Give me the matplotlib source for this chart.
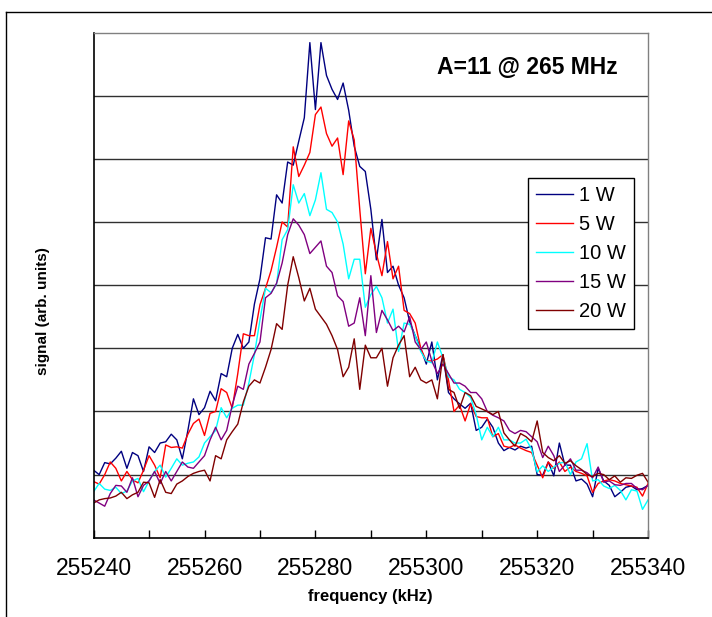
import matplotlib
matplotlib.use("Agg")
import matplotlib.pyplot as plt
from matplotlib.lines import Line2D
from matplotlib.ticker import MultipleLocator

plt.rcParams['font.family'] = ['Liberation Sans', 'DejaVu Sans']

# frequency axis, 1 kHz steps
freq = list(range(255240, 255341))

# signal (arb. units), one value per kHz
sig_1w = [1.07, 1.0, 1.19, 1.17, 1.26, 1.37, 1.1, 1.35, 1.3, 1.05,
          1.44, 1.35, 1.5, 1.52, 1.64, 1.55, 1.25, 1.7, 2.2, 1.95,
          2.06, 2.32, 2.17, 2.6, 2.55, 3.0, 3.22, 3.0, 3.1, 3.7,
          4.1, 4.75, 4.73, 5.43, 5.3, 5.95, 5.9, 6.28, 6.65, 7.84,
          6.78, 7.84, 7.32, 7.1, 6.94, 7.2, 6.77, 6.2, 5.88, 5.8,
          5.2, 4.4, 5.04, 4.2, 4.3, 4.0, 3.8, 3.42, 3.2, 3.0,
          2.75, 3.1, 2.5, 2.9, 2.3, 2.2, 2.12, 2.05, 2.13, 1.7,
          1.75, 1.88, 1.75, 1.5, 1.38, 1.43, 1.39, 1.45, 1.42, 1.45,
          1.0, 0.99, 1.2, 0.98, 1.5, 1.15, 1.15, 0.9, 0.93, 0.85,
          0.65, 1.1, 0.9, 0.83, 0.65, 0.72, 0.8, 0.82, 0.76, 0.78,
          0.83]
sig_5w = [0.89, 0.85, 1.0, 1.2, 1.1, 0.9, 1.05, 0.92, 0.87, 1.07,
          1.3, 1.15, 0.95, 1.47, 1.43, 1.44, 1.42, 1.64, 1.81, 1.88,
          1.62, 1.97, 2.0, 2.36, 2.3, 2.05, 2.6, 3.23, 3.2, 3.2,
          3.69, 3.95, 4.23, 4.6, 5.0, 4.92, 6.19, 5.72, 5.9, 6.1,
          6.7, 6.82, 6.4, 6.2, 6.33, 5.75, 6.6, 6.3, 5.2, 4.18,
          4.9, 4.5, 4.15, 4.69, 4.1, 4.3, 3.6, 3.55, 3.4, 3.0,
          2.8, 2.8, 2.83, 2.9, 2.5, 2.0, 2.1, 1.85, 2.12, 1.92,
          1.9, 1.9, 1.6, 1.65, 1.45, 1.43, 1.47, 1.42, 1.38, 1.35,
          1.15, 0.95, 1.2, 1.1, 1.2, 1.05, 1.12, 1.05, 1.02, 0.98,
          0.72, 0.86, 0.9, 0.92, 0.9, 0.86, 0.84, 0.82, 0.8, 0.66,
          0.86]
sig_10w = [0.73, 0.86, 0.77, 0.75, 0.8, 0.7, 0.74, 0.9, 0.94, 0.73,
           0.9, 1.05, 1.15, 0.96, 1.1, 1.25, 1.15, 1.18, 1.2, 1.28,
           1.5, 1.6, 1.7, 2.06, 1.9, 2.05, 2.1, 2.1, 2.45, 2.9,
           3.45, 3.95, 3.88, 4.02, 4.72, 4.88, 5.59, 5.3, 5.45, 5.1,
           5.35, 5.78, 5.2, 5.15, 5.0, 4.65, 4.1, 4.41, 4.41, 3.65,
           3.85, 3.98, 3.8, 3.4, 3.62, 2.95, 3.4, 3.38, 3.2, 2.95,
           2.8, 2.77, 3.1, 2.85, 2.55, 2.5, 2.35, 2.3, 2.22, 1.95,
           1.55, 1.75, 1.6, 1.75, 1.55, 1.55, 1.5, 1.5, 1.56, 1.4,
           1.04, 1.14, 1.05, 1.12, 1.18, 1.2, 1.0, 1.2, 1.25, 1.49,
           0.9, 0.92, 0.82, 0.78, 0.83, 0.75, 0.6, 0.76, 0.74, 0.45,
           0.6]
sig_15w = [0.6, 0.55, 0.5, 0.7, 0.83, 0.82, 0.72, 0.95, 0.65, 0.83,
           0.9, 1.05, 0.86, 1.05, 0.9, 1.05, 1.2, 1.12, 1.1, 1.2,
           1.3, 1.55, 1.75, 1.55, 1.7, 2.1, 2.4, 2.35, 2.75, 2.92,
           3.1, 3.8, 3.87, 4.03, 4.35, 4.8, 5.05, 4.95, 4.8, 4.5,
           4.6, 4.7, 4.3, 4.2, 3.83, 3.74, 3.35, 3.4, 3.8, 3.2,
           4.15, 3.25, 3.6, 3.45, 3.28, 3.35, 3.26, 3.5, 3.1, 2.98,
           3.1, 2.8, 2.6, 2.75, 2.6, 2.45, 2.45, 2.4, 2.3, 2.3,
           2.2, 2.0, 1.94, 1.9, 1.85, 1.7, 1.65, 1.7, 1.68, 1.6,
           1.52, 1.27, 1.45, 1.3, 1.05, 1.15, 1.25, 1.07, 1.07, 1.03,
           0.95, 1.12, 0.88, 0.9, 0.84, 0.83, 0.86, 0.86, 0.78, 0.76,
           0.83]
sig_20w = [0.55, 0.6, 0.62, 0.63, 0.66, 0.72, 0.62, 0.68, 0.72, 0.88,
           0.87, 0.64, 0.92, 0.72, 0.7, 0.85, 0.9, 0.97, 1.02, 1.05,
           1.07, 0.9, 1.3, 1.25, 1.55, 1.68, 1.8, 2.15, 2.4, 2.5,
           2.45, 2.7, 2.98, 3.39, 3.3, 4.0, 4.45, 4.12, 3.75, 3.95,
           3.62, 3.5, 3.38, 3.2, 2.98, 2.55, 2.7, 3.15, 2.35, 3.05,
           2.85, 2.85, 3.0, 2.4, 2.85, 3.05, 3.2, 2.55, 2.7, 2.5,
           2.45, 2.5, 2.2, 2.9, 2.35, 2.3, 2.05, 2.3, 2.25, 2.08,
           2.04, 2.0, 1.95, 2.0, 1.66, 1.55, 1.45, 1.65, 1.6, 1.52,
           1.85, 1.35, 1.27, 1.22, 1.3, 1.18, 1.22, 1.14, 1.08, 1.0,
           0.97, 1.02, 1.0, 0.92, 0.98, 0.88, 0.95, 0.94, 0.99, 1.02,
           0.88]

labels = ["1 W", "5 W", "10 W", "15 W", "20 W"]
colors = ["#000080", "#FF0000", "#00FFFF", "#800080", "#800000"]
series = [sig_1w, sig_5w, sig_10w, sig_15w, sig_20w]

fig = plt.figure(figsize=(7.12, 6.17), dpi=100)
ax = fig.add_axes([0.1315, 0.1284, 0.7787, 0.8189])

for y, lab, c in zip(series, labels, colors):
    ax.plot(freq, y, color=c, lw=1.0, label=lab)

ax.set_xlim(255240, 255340)
ax.set_ylim(0, 8)
ax.xaxis.set_major_locator(MultipleLocator(20))
ax.xaxis.set_minor_locator(MultipleLocator(10))
ax.xaxis.set_major_formatter(matplotlib.ticker.FormatStrFormatter('%d'))
ax.tick_params(axis='x', which='both', direction='in', length=6, width=1,
               labelsize=16.5, pad=14)
ax.tick_params(axis='y', left=False, labelleft=False)

ax.set_yticks([1, 2, 3, 4, 5, 6, 7])
ax.yaxis.grid(True, color='#303030', lw=1.0)
ax.set_axisbelow(True)

for s in ['left', 'bottom']:
    ax.spines[s].set_color('black')
    ax.spines[s].set_linewidth(1.2)
for s in ['top', 'right']:
    ax.spines[s].set_color('#808080')
    ax.spines[s].set_linewidth(1.0)

leg = ax.legend(loc='upper left', bbox_to_anchor=(0.7836, 0.712),
                borderaxespad=0, fontsize=14.5, frameon=True, fancybox=False,
                handlelength=1.85, handletextpad=0.3, labelspacing=0.5,
                borderpad=0.4)
leg.get_frame().set_edgecolor('black')
leg.get_frame().set_linewidth(1.0)
leg.get_frame().set_alpha(1)

fig.text(527 / 712, 1 - 67 / 617, "A=11 @ 265 MHz", fontsize=16.5,
         fontweight='bold', ha='center', va='center')
fig.text(370 / 712, 1 - 597 / 617, "frequency (kHz)", fontsize=12,
         fontweight='bold', ha='center', va='center')
fig.text(43 / 712, 1 - 311 / 617, "signal (arb. units)", fontsize=11,
         fontweight='bold', ha='center', va='center', rotation=90)

# outer chart border (left and top edges visible)
fig.add_artist(Line2D([6 / 712, 6 / 712], [0, 1 - 12 / 617], color='black', lw=1.0))
fig.add_artist(Line2D([6 / 712, 1], [1 - 12 / 617, 1 - 12 / 617], color='black', lw=1.0))

fig.savefig("out.png", dpi=100)
